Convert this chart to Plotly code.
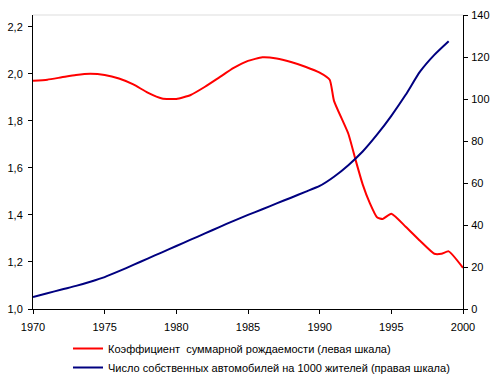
import plotly.graph_objects as go

years_fert = [1970, 1971, 1972, 1973, 1974, 1975, 1976, 1977, 1978, 1979, 1980, 1981, 1982,
              1983, 1984, 1985, 1986, 1987, 1988, 1989, 1990, 1990.7, 1991, 1992, 1992.5,
              1993, 1993.5, 1994, 1994.4, 1995, 1996, 1997, 1998, 1998.5, 1999, 2000]
fertility = [1.97, 1.975, 1.985, 1.995, 2.0, 1.995, 1.98, 1.955, 1.92, 1.895, 1.893, 1.91, 1.945,
             1.985, 2.025, 2.055, 2.07, 2.065, 2.05, 2.03, 2.005, 1.975, 1.885, 1.745, 1.635,
             1.53, 1.45, 1.39, 1.383, 1.405, 1.35, 1.29, 1.235, 1.235, 1.245, 1.175]

years_cars = list(range(1970, 2000))
cars = [5.7, 7.5, 9.3, 11.0, 13.0, 15.2, 18.0, 21.0, 24.0, 27.0, 30.0, 33.0, 36.0, 39.0, 42.0,
        44.8, 47.5, 50.3, 53.0, 55.8, 58.6, 63.0, 68.5, 75.0, 83.0, 92.0, 102.0, 113.0, 121.0, 127.5]

name_fert = "Коэффициент  суммарной рождаемости (левая шкала)"
name_cars = "Число собственных автомобилей на 1000 жителей (правая шкала)"

fig = go.Figure()
fig.add_trace(go.Scatter(x=years_fert, y=fertility, name=name_fert, mode="lines",
                         line=dict(color="#FF0000", width=2, shape="spline", smoothing=0.5)))
fig.add_trace(go.Scatter(x=years_cars, y=cars, name=name_cars, mode="lines", yaxis="y2",
                         line=dict(color="#000080", width=2, shape="spline", smoothing=0.6)))

font = dict(family="Liberation Sans, Arial, sans-serif", size=11, color="black")

fig.update_layout(
    width=496, height=383,
    margin=dict(l=33, r=33, t=15, b=74),
    paper_bgcolor="white", plot_bgcolor="white",
    separators=", ",
    font=font,
    showlegend=True,
    legend=dict(x=(68 - 33) / 430, xanchor="left", yref="container", y=1 - 334 / 383,
                yanchor="top", orientation="v", font=font, itemwidth=30, tracegroupgap=0,
                bgcolor="rgba(0,0,0,0)"),
    xaxis=dict(range=[1970, 2000], tickvals=[1970, 1975, 1980, 1985, 1990, 1995, 2000],
               showgrid=False, zeroline=False, showline=True, linecolor="black", linewidth=1,
               ticks="outside", ticklen=4, tickcolor="black", tickfont=font,
               automargin=False, ticklabelstandoff=4),
    yaxis=dict(range=[1.0, 2.25], tickvals=[1.0, 1.2, 1.4, 1.6, 1.8, 2.0, 2.2], tickformat=".1f",
               showgrid=False, zeroline=False, showline=True, linecolor="black", linewidth=1,
               ticks="outside", ticklen=4, tickcolor="black", tickfont=font,
               automargin=False, ticklabelstandoff=3),
    yaxis2=dict(range=[0, 140], tickvals=[0, 20, 40, 60, 80, 100, 120, 140], overlaying="y",
                side="right", showgrid=False, zeroline=False, showline=True, linecolor="black",
                linewidth=1, ticks="outside", ticklen=4, tickcolor="black", tickfont=font,
                automargin=False, ticklabelstandoff=1),
    shapes=[dict(type="line", xref="paper", yref="paper", x0=0, x1=1, y0=1, y1=1,
                 line=dict(color="#dddddd", width=1), layer="below")],
)

fig.write_html("out.html", config={"displayModeBar": False},
               post_script="document.body.style.margin='0';document.body.style.overflow='hidden';")
